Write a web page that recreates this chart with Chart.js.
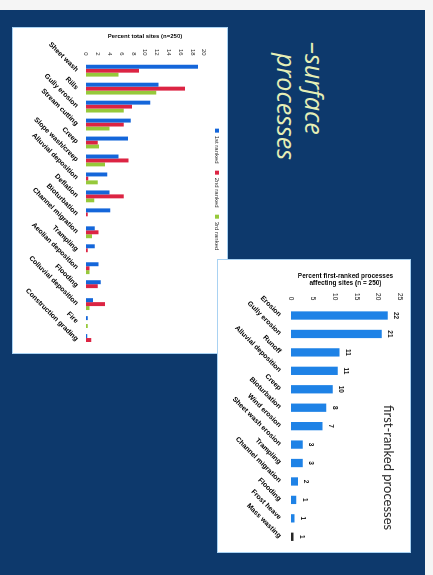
<!DOCTYPE html>
<html>
<head>
<meta charset="utf-8">
<title>Surface processes</title>
<script src="https://cdn.jsdelivr.net/npm/chart.js@4.4.1/dist/chart.umd.min.js"></script>
<style>
html, body { margin: 0; padding: 0; }
body { width: 433px; height: 575px; background: #f5f5f5; overflow: hidden; position: relative; }
/* slide is laid out upright, then turned a quarter clockwise like the scan */
#slide { position: absolute; left: 0; top: 0; width: 565px; height: 425px; background: #0d396c;
         transform-origin: 0 0; transform: translate(425px, 10px) rotate(90deg); overflow: hidden; }
.heading { position: absolute; font-family: 'Open Sans', sans-serif; font-style: italic; font-size: 25px;
           line-height: 28px; color: #e6efb6; white-space: nowrap; }
.panel { position: absolute; background: #fff; box-shadow: 0 0 0 1px #a9d2f2; filter: blur(0.35px); }
#panel1 { left: 18px; top: 198px; width: 325px; height: 214px; }
#panel2 { left: 250px; top: 15px; width: 292px; height: 192px; }
.panel canvas { position: absolute; left: 0; top: 0; }
#note { position: absolute; left: 145px; top: 13px; font-family: Lato, sans-serif; font-size: 13px;
        color: #2a2a2a; white-space: nowrap; }
</style>
</head>
<body>
<div id="slide">
  <div class="heading" style="left:32px; top:96px;">–surface</div>
  <div class="heading" style="left:43px; top:124px;">processes</div>
  <div class="panel" id="panel1"><canvas id="chart1" width="325" height="214"></canvas></div>
  <div class="panel" id="panel2"><canvas id="chart2" width="292" height="192"></canvas>
    <div id="note">first-ranked processes</div></div>
</div>
<script>
// percent of total sites, by rank of the process
const processLabels1 = ['Sheet wash', 'Rills', 'Gully erosion', 'Stream cutting', 'Creep',
    'Slope wash/creep', 'Alluvial deposition', 'Deflation', 'Bioturbation', 'Channel migration',
    'Trampling', 'Aeolian deposition', 'Flooding', 'Colluvial deposition', 'Fire', 'Construction grading'];
const ranked1 = [19, 12.3, 10.9, 7.6, 7.1, 5.5, 3.6, 4.0, 4.1, 1.5, 1.5, 2.1, 2.5, 1.2, 0.3, 0.2];
const ranked2 = [9, 16.8, 7.8, 6.4, 2.0, 7.2, 0.4, 6.4, 0.3, 2.1, 0.3, 0.6, 2.0, 3.2, 0, 0.9];
const ranked3 = [5.5, 11.9, 6.4, 4.0, 2.2, 3.2, 2.0, 1.4, 0, 1.0, 0, 0.6, 0, 0.6, 0.3, 0];
const rankNames = ['1st ranked', '2nd ranked', '3rd ranked'];
const percentMax1 = 20, percentStep1 = 2;

// percent of sites where the process was ranked first
const processLabels2 = ['Erosion', 'Gully erosion', 'Runoff', 'Alluvial deposition', 'Creep',
    'Bioturbation', 'Wind erosion', 'Sheet wash erosion', 'Trampling', 'Channel migration',
    'Flooding', 'Frost heave', 'Mass wasting'];
const firstRanked = [22.2, 20.8, 11.1, 10.7, 9.6, 8.1, 7.2, 2.7, 2.7, 1.6, 1.2, 0.8, 0.6];
const percentMax2 = 25, percentStep2 = 5;

Chart.defaults.font.family = "'Liberation Sans', Arial, sans-serif";
Chart.defaults.animation = false;

const noGrid = { display: false, drawTicks: false };

const valueLabels = {
    id: 'valueLabels',
    afterDatasetsDraw(chart) {
        const ctx = chart.ctx;
        const values = chart.data.datasets[0].data;
        ctx.save();
        ctx.font = "bold 6.5px 'Liberation Sans', Arial, sans-serif";
        ctx.fillStyle = '#111';
        ctx.textAlign = 'center';
        ctx.textBaseline = 'bottom';
        chart.getDatasetMeta(0).data.forEach((bar, i) => {
            ctx.fillText(Math.round(values[i]), bar.x, bar.y - 5);
        });
        ctx.restore();
    }
};

new Chart(document.getElementById('chart1'), {
    type: 'bar',
    data: {
        labels: processLabels1,
        datasets: [
            { label: rankNames[0], data: ranked1, backgroundColor: '#1466da', categoryPercentage: 0.66, barPercentage: 1 },
            { label: rankNames[1], data: ranked2, backgroundColor: '#dc2443', categoryPercentage: 0.66, barPercentage: 1 },
            { label: rankNames[2], data: ranked3, backgroundColor: '#96c93a', categoryPercentage: 0.66, barPercentage: 1 }
        ]
    },
    options: {
        responsive: false,
        layout: { padding: { left: 2, right: 4, top: 0, bottom: 0 } },
        plugins: {
            title: {
                display: true, text: 'Percent total sites (n=250)', position: 'left', fullSize: false,
                color: '#000', font: { size: 6, weight: 'bold' }, padding: { top: 3, bottom: 2 }
            },
            legend: {
                position: 'top',
                labels: { boxWidth: 4, boxHeight: 4, color: '#333', font: { size: 6 }, padding: 7 }
            },
            tooltip: { enabled: false }
        },
        scales: {
            x: {
                grid: noGrid, border: { display: false },
                ticks: { autoSkip: false, minRotation: 45, maxRotation: 45, padding: 6, color: '#000',
                         font: { size: 7, weight: 'bold' } },
                afterFit: s => { s.height = 73; }
            },
            y: {
                min: 0, max: percentMax1,
                grid: noGrid, border: { display: false },
                ticks: { stepSize: percentStep1, padding: 6, color: '#333', font: { size: 6 } },
                afterFit: s => { s.width = 19.5; }
            }
        }
    }
});

new Chart(document.getElementById('chart2'), {
    type: 'bar',
    data: {
        labels: processLabels2,
        datasets: [{
            label: 'First-ranked',
            data: firstRanked,
            backgroundColor: firstRanked.map((v, i) => i === firstRanked.length - 1 ? '#262626' : '#1e82e6'),
            categoryPercentage: 0.45, barPercentage: 1
        }]
    },
    options: {
        responsive: false,
        layout: { padding: { left: 2, right: 6, top: 10, bottom: 0 } },
        plugins: {
            title: {
                display: true, text: ['Percent first-ranked processes', 'affecting sites (n = 250)'],
                position: 'left', fullSize: false, color: '#000',
                font: { size: 6.5, weight: 'bold', lineHeight: 1.2 }, padding: { top: 10, bottom: 1 }
            },
            legend: { display: false },
            tooltip: { enabled: false }
        },
        scales: {
            x: {
                grid: noGrid, border: { display: false },
                ticks: { autoSkip: false, minRotation: 45, maxRotation: 45, padding: 8, color: '#000',
                         font: { size: 7, weight: 'bold' } },
                afterFit: s => { s.height = 73; }
            },
            y: {
                min: 0, max: percentMax2,
                grid: noGrid, border: { display: false },
                ticks: { stepSize: percentStep2, padding: 6, color: '#111', font: { size: 6.5 } },
                afterFit: s => { s.width = 17.7; }
            }
        }
    },
    plugins: [valueLabels]
});
</script>
</body>
</html>
